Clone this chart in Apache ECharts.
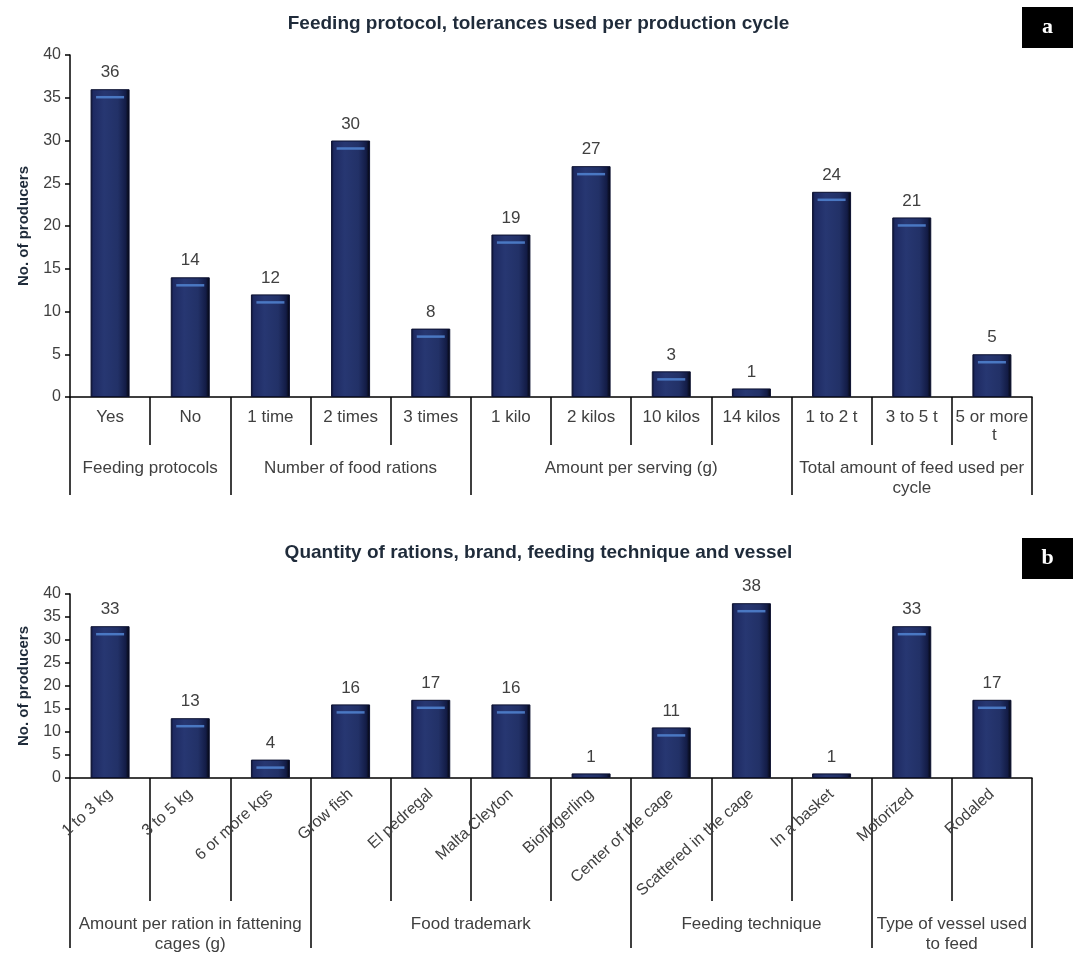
<!DOCTYPE html>
<html>
<head>
<meta charset="utf-8">
<title>Feeding protocol and rations</title>
<script src="https://cdn.jsdelivr.net/npm/echarts@6/dist/echarts.min.js"></script>
<style>
  html, body { margin: 0; padding: 0; background: #ffffff; }
  #chart { width: 1077px; height: 954px; }
</style>
</head>
<body>
<div id="chart"></div>
<script>
// Panel a: feeding protocol, tolerances used per production cycle
const topTitle = 'Feeding protocol, tolerances used per production cycle';
const topCategories = ['Yes', 'No', '1 time', '2 times', '3 times', '1 kilo', '2 kilos', '10 kilos', '14 kilos', '1 to 2 t', '3 to 5 t', '5 or more t'];
const topValues = [36, 14, 12, 30, 8, 19, 27, 3, 1, 24, 21, 5];
const topGroups = ['Feeding protocols', 'Number of food rations', 'Amount per serving (g)', 'Total amount of feed used per\ncycle'];
const topGroupSizes = [2, 3, 4, 3];

// Panel b: quantity of rations, brand, feeding technique and vessel
const bottomTitle = 'Quantity of rations, brand, feeding technique and vessel';
const bottomCategories = ['1 to 3 kg', '3 to 5 kg', '6 or more kgs', 'Grow fish', 'El pedregal', 'Malta Cleyton', 'Biofingerling', 'Center of the cage', 'Scattered in the cage', 'In a basket', 'Motorized', 'Rodaled'];
const bottomValues = [33, 13, 4, 16, 17, 16, 1, 11, 38, 1, 33, 17];
const bottomGroups = ['Amount per ration in fattening\ncages (g)', 'Food trademark', 'Feeding technique', 'Type of vessel used\nto feed'];
const bottomGroupSizes = [3, 4, 3, 2];

// Shared y scale
const yMin = 0;
const yMax = 40;
const yStep = 5;
const yName = 'No. of producers';

const FONT = 'Liberation Sans, Arial, sans-serif';
const TEXT = '#404040';
const TITLE = '#1f2b3a';

// Group boundaries and centres along the category band index
function groupLayout(sizes) {
  const bounds = [0];
  const centres = [];
  sizes.forEach(s => {
    const start = bounds[bounds.length - 1];
    centres.push(start + s / 2);
    bounds.push(start + s);
  });
  return { bounds, centres };
}

const barFill = new echarts.graphic.LinearGradient(0, 0, 1, 0, [
  { offset: 0, color: '#0a0f2c' },
  { offset: 0.07, color: '#1e2a62' },
  { offset: 0.35, color: '#273772' },
  { offset: 0.7, color: '#223167' },
  { offset: 0.9, color: '#131c46' },
  { offset: 1, color: '#030409' }
]);

function panel(idx, categories, values, groups, sizes, shortTick, longTick, groupMargin, rotated) {
  const g = groupLayout(sizes);
  const catAxis = {
    type: 'category',
    gridIndex: idx,
    position: 'bottom',
    data: categories,
    boundaryGap: true,
    axisLine: { lineStyle: { color: '#000', width: 1.5 } },
    axisTick: { show: true, interval: 0, alignWithLabel: false, length: shortTick, lineStyle: { color: '#000', width: 1.5 } },
    axisLabel: rotated ? {
      interval: 0, rotate: 42, margin: 14, color: TEXT, fontSize: 16, fontFamily: FONT
    } : {
      interval: 0, margin: 11, color: TEXT, fontSize: 17, fontFamily: FONT,
      width: 76, overflow: 'break', lineHeight: 18
    }
  };
  const groupAxis = {
    type: 'value',
    gridIndex: idx,
    position: 'bottom',
    min: 0,
    max: categories.length,
    axisLine: { show: false },
    splitLine: { show: false },
    axisTick: { show: true, customValues: g.bounds, length: longTick, lineStyle: { color: '#000', width: 1.5 } },
    axisLabel: {
      customValues: g.centres,
      margin: groupMargin,
      color: TEXT, fontSize: 17, fontFamily: FONT, lineHeight: 20,
      formatter: v => groups[g.centres.indexOf(v)] || ''
    }
  };
  const yAxis = {
    type: 'value',
    gridIndex: idx,
    min: yMin, max: yMax, interval: yStep,
    name: yName,
    nameLocation: 'middle',
    nameGap: 39,
    nameTextStyle: { color: TITLE, fontSize: 15, fontWeight: 'bold', fontFamily: FONT },
    axisLine: { show: true, lineStyle: { color: '#000', width: 1.5 } },
    axisTick: { show: true, length: 5, lineStyle: { color: '#000', width: 1.5 } },
    axisLabel: { color: TEXT, fontSize: 16, fontFamily: FONT, margin: 9 },
    splitLine: { show: false }
  };
  const bar = {
    type: 'bar',
    xAxisIndex: idx * 2,
    yAxisIndex: idx,
    data: values,
    barWidth: 39,
    itemStyle: { color: barFill, borderColor: '#0b1030', borderWidth: 1 },
    label: { show: true, position: 'top', distance: 8, color: TEXT, fontSize: 17, fontFamily: FONT },
    z: 2
  };
  // light sheen near the top of each bar
  const sheen = {
    type: 'scatter',
    xAxisIndex: idx * 2,
    yAxisIndex: idx,
    data: values.map(v => (v > 1 ? v : '-')),
    symbol: 'rect',
    symbolSize: [28, 2.5],
    symbolOffset: [0, 8],
    itemStyle: { color: '#4f80cc', opacity: 0.9 },
    silent: true,
    z: 3
  };
  return { xAxes: [catAxis, groupAxis], yAxis, series: [bar, sheen] };
}

const a = panel(0, topCategories, topValues, topGroups, topGroupSizes, 48, 98, 61, false);
const b = panel(1, bottomCategories, bottomValues, bottomGroups, bottomGroupSizes, 123, 170, 136, true);

function tag(letter, top) {
  return {
    type: 'group',
    left: 1022,
    top: top,
    children: [
      { type: 'rect', shape: { x: 0, y: 0, width: 51, height: 41 }, style: { fill: '#000' } },
      { type: 'text', x: 25.5, y: 20.5, style: { text: letter, fill: '#fff', font: 'bold 22px "Liberation Serif", "DejaVu Serif", serif', align: 'center', verticalAlign: 'middle' } }
    ]
  };
}

const chart = echarts.init(document.getElementById('chart'), null, { renderer: 'canvas' });
chart.setOption({
  backgroundColor: '#ffffff',
  animation: false,
  title: [
    { text: topTitle, left: 'center', top: 9, textStyle: { color: TITLE, fontSize: 19, fontWeight: 'bold', fontFamily: FONT } },
    { text: bottomTitle, left: 'center', top: 538, textStyle: { color: TITLE, fontSize: 19, fontWeight: 'bold', fontFamily: FONT } }
  ],
  grid: [
    { left: 70, right: 45, top: 55, height: 342 },
    { left: 70, right: 45, top: 594, height: 190 }
  ],
  xAxis: [...a.xAxes, ...b.xAxes],
  yAxis: [a.yAxis, b.yAxis],
  series: [...a.series, ...b.series],
  graphic: [tag('a', 7), tag('b', 538)]
});
</script>
</body>
</html>
